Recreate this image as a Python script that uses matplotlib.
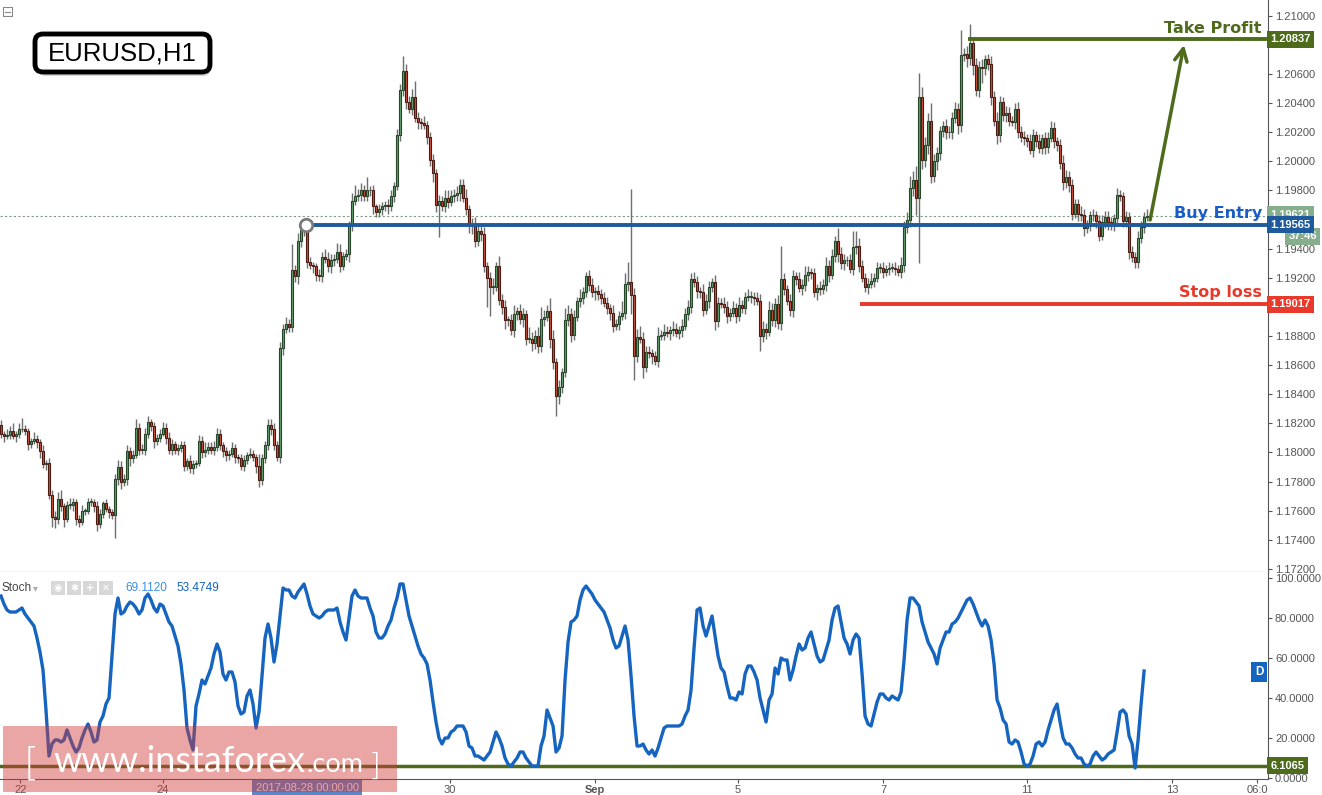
import numpy as np
import matplotlib.pyplot as plt
from matplotlib.patches import Rectangle, FancyBboxPatch
from matplotlib.transforms import IdentityTransform

plt.rcParams['font.family'] = ['Liberation Sans', 'DejaVu Sans']

# EURUSD H1 closes, in pips above 1.17000 (one value per hourly candle)
close_pips = [
    113, 111, 112, 115, 111, 113, 116, 116, 115, 106,
    108, 109, 107, 101, 92, 93, 71, 56, 54, 68,
    63, 54, 64, 64, 66, 54, 52, 60, 60, 66,
    66, 63, 51, 58, 65, 61, 59, 57, 82, 90,
    80, 82, 101, 96, 98, 117, 102, 102, 113, 121,
    118, 108, 110, 113, 117, 110, 102, 106, 102, 103,
    105, 91, 94, 89, 92, 93, 108, 100, 102, 104,
    102, 104, 113, 105, 101, 98, 99, 103, 97, 96,
    91, 95, 98, 99, 97, 91, 81, 96, 105, 119,
    116, 105, 97, 172, 185, 188, 186, 225, 221, 245,
    253, 252, 231, 229, 228, 222, 221, 234, 233, 228,
    232, 233, 238, 228, 235, 236, 256, 273, 276, 277,
    280, 276, 280, 280, 269, 265, 267, 269, 270, 269,
    276, 283, 318, 349, 362, 341, 336, 344, 330, 327,
    326, 325, 317, 301, 292, 270, 273, 269, 275, 272,
    276, 277, 278, 284, 275, 267, 256, 256, 245, 252,
    250, 228, 220, 214, 214, 228, 205, 200, 191, 191,
    184, 195, 197, 192, 195, 178, 178, 175, 180, 173,
    192, 193, 197, 178, 162, 139, 145, 155, 191, 195,
    181, 193, 204, 206, 210, 221, 215, 210, 211, 209,
    206, 203, 199, 196, 187, 188, 194, 196, 216, 217,
    208, 166, 179, 178, 159, 169, 168, 166, 163, 180,
    181, 183, 182, 184, 185, 182, 184, 187, 195, 200,
    219, 217, 211, 210, 198, 204, 214, 217, 190, 203,
    202, 200, 194, 196, 199, 194, 201, 199, 207, 207,
    207, 206, 204, 180, 185, 183, 198, 191, 202, 189,
    219, 212, 204, 198, 221, 219, 213, 215, 222, 224,
    223, 210, 213, 212, 215, 228, 222, 235, 245, 236,
    230, 232, 232, 226, 241, 242, 228, 220, 214, 216,
    218, 220, 227, 227, 224, 226, 227, 227, 226, 224,
    229, 255, 260, 282, 287, 275, 344, 301, 311, 328,
    290, 300, 306, 321, 324, 320, 320, 330, 336, 325,
    373, 374, 371, 381, 366, 349, 365, 364, 370, 367,
    344, 328, 318, 341, 332, 333, 328, 327, 336, 320,
    317, 316, 314, 308, 318, 314, 309, 316, 310, 316,
    323, 314, 311, 299, 286, 289, 284, 264, 271, 264,
    263, 254, 256, 263, 263, 259, 249, 258, 262, 258,
    257, 261, 277, 276, 259, 262, 238, 234, 231, 247,
    255, 262, 262,
]
first_open = 119

# wick length above / below the body, pips
wick_up = [
    3, 2, 4, 3, 5, 2, 4, 8, 3, 2,
    2, 5, 3, 2, 4, 2, 3, 3, 4, 5,
    6, 2, 3, 5, 3, 2, 3, 4, 2, 3,
    3, 2, 4, 3, 2, 3, 2, 2, 3, 5,
    4, 3, 4, 3, 4, 6, 3, 4, 4, 4,
    2, 3, 3, 3, 4, 3, 4, 3, 2, 3,
    3, 3, 2, 4, 3, 2, 4, 3, 5, 3,
    3, 4, 4, 3, 2, 3, 3, 4, 3, 2,
    3, 3, 2, 4, 3, 2, 8, 3, 3, 4,
    4, 4, 3, 4, 3, 5, 4, 18, 4, 6,
    5, 4, 3, 3, 2, 2, 4, 4, 6, 5,
    4, 3, 6, 5, 3, 4, 3, 5, 8, 4,
    5, 4, 9, 3, 4, 2, 4, 3, 3, 4,
    4, 3, 4, 4, 10, 5, 4, 6, 11, 4,
    3, 5, 3, 3, 4, 3, 4, 3, 5, 5,
    4, 4, 5, 4, 4, 6, 3, 5, 6, 4,
    5, 5, 3, 4, 6, 3, 7, 4, 5, 3,
    4, 6, 3, 5, 4, 3, 8, 5, 4, 6,
    8, 5, 4, 9, 6, 3, 5, 3, 8, 6,
    4, 5, 3, 6, 4, 3, 4, 5, 3, 4,
    3, 4, 4, 3, 5, 4, 3, 8, 7, 14,
    64, 5, 6, 8, 5, 4, 4, 3, 4, 6,
    3, 5, 4, 3, 5, 4, 3, 5, 4, 5,
    4, 5, 4, 3, 6, 5, 4, 3, 5, 4,
    3, 5, 4, 3, 5, 4, 6, 4, 3, 5,
    4, 3, 4, 5, 5, 4, 6, 5, 4, 6,
    23, 4, 3, 5, 4, 3, 5, 4, 6, 4,
    3, 4, 3, 5, 4, 6, 4, 5, 4, 9,
    5, 4, 3, 4, 11, 10, 5, 4, 3, 4,
    5, 3, 4, 3, 4, 3, 4, 3, 4, 3,
    5, 4, 5, 8, 6, 10, 17, 7, 6, 5,
    12, 5, 4, 3, 4, 5, 4, 4, 5, 4,
    17, 4, 5, 13, 4, 5, 4, 5, 3, 4,
    5, 4, 6, 4, 3, 5, 4, 3, 4, 5,
    4, 4, 3, 5, 4, 3, 5, 3, 4, 4,
    5, 4, 3, 4, 5, 5, 4, 4, 3, 3,
    5, 4, 4, 3, 4, 3, 4, 5, 4, 4,
    4, 3, 5, 3, 3, 4, 3, 4, 4, 5,
    4, 3, 5,
]
wick_dn = [
    3, 4, 2, 3, 2, 4, 3, 2, 3, 4,
    3, 2, 4, 5, 3, 4, 3, 7, 6, 3,
    3, 5, 2, 3, 4, 4, 3, 2, 3, 2,
    3, 4, 5, 3, 3, 2, 4, 3, 16, 4,
    5, 3, 4, 5, 3, 2, 4, 3, 4, 3,
    3, 5, 3, 3, 2, 4, 3, 4, 3, 4,
    3, 4, 3, 3, 4, 3, 2, 4, 3, 3,
    3, 4, 3, 3, 4, 4, 3, 2, 4, 3,
    3, 4, 3, 2, 3, 5, 5, 3, 3, 3,
    4, 3, 3, 4, 5, 3, 3, 3, 4, 5,
    4, 3, 4, 3, 5, 4, 3, 4, 3, 4,
    5, 4, 3, 4, 3, 3, 5, 4, 3, 3,
    4, 3, 3, 4, 5, 3, 3, 4, 3, 5,
    3, 4, 3, 4, 4, 5, 3, 4, 3, 5,
    4, 3, 5, 4, 6, 5, 22, 3, 4, 4,
    3, 4, 4, 5, 3, 4, 5, 6, 4, 3,
    5, 4, 20, 20, 5, 3, 4, 5, 6, 4,
    3, 5, 4, 4, 6, 4, 3, 5, 4, 5,
    4, 5, 3, 6, 5, 14, 6, 4, 3, 4,
    5, 4, 3, 4, 4, 3, 4, 3, 5, 4,
    4, 3, 4, 5, 4, 3, 4, 3, 4, 5,
    13, 16, 4, 3, 8, 4, 3, 5, 3, 4,
    3, 4, 3, 5, 4, 3, 4, 5, 3, 4,
    4, 3, 5, 4, 4, 3, 5, 4, 6, 4,
    3, 4, 5, 4, 3, 5, 4, 3, 4, 3,
    4, 5, 3, 10, 4, 5, 3, 4, 5, 4,
    5, 4, 3, 4, 5, 4, 3, 5, 4, 4,
    4, 3, 5, 4, 3, 4, 5, 3, 4, 5,
    4, 5, 4, 3, 4, 5, 4, 3, 4, 5,
    3, 4, 3, 4, 4, 3, 4, 3, 4, 3,
    4, 5, 4, 5, 6, 12, 45, 6, 5, 6,
    5, 4, 6, 5, 4, 5, 4, 5, 4, 6,
    5, 4, 6, 5, 7, 4, 5, 10, 5, 4,
    5, 4, 6, 5, 4, 5, 4, 3, 5, 4,
    4, 5, 4, 3, 5, 4, 3, 4, 5, 4,
    3, 5, 4, 4, 6, 4, 5, 4, 3, 5,
    4, 5, 3, 4, 4, 5, 4, 3, 4, 5,
    4, 5, 4, 3, 4, 4, 5, 3, 4, 4,
    3, 4, 3,
]

# Stochastic %D line
stoch_d = [
    91, 87, 84, 83, 83, 83, 84, 85, 82, 80,
    78, 76, 70, 63, 54, 34, 11, 17, 19, 19,
    18, 19, 24, 20, 16, 13, 15, 20, 24, 27,
    23, 18, 19, 28, 31, 37, 40, 61, 82, 90,
    82, 83, 86, 88, 87, 85, 82, 84, 90, 92,
    89, 85, 83, 87, 86, 82, 78, 76, 71, 66,
    57, 44, 25, 19, 14, 36, 42, 49, 47, 51,
    55, 62, 67, 63, 52, 49, 53, 53, 48, 36,
    32, 33, 41, 44, 37, 25, 33, 51, 70, 77,
    70, 58, 67, 81, 95, 94, 94, 91, 90, 93,
    95, 97, 92, 86, 82, 81, 80, 81, 83, 84,
    84, 84, 85, 78, 73, 69, 80, 91, 94, 91,
    90, 90, 90, 85, 81, 73, 70, 70, 72, 76,
    79, 85, 90, 97, 97, 89, 81, 76, 71, 66,
    62, 60, 57, 49, 38, 28, 20, 17, 20, 20,
    23, 24, 26, 26, 26, 23, 16, 15, 11, 11,
    10, 9, 11, 13, 18, 23, 20, 16, 10, 7,
    6, 8, 10, 13, 13, 10, 8, 6, 6, 6,
    16, 21, 34, 30, 26, 13, 15, 21, 49, 68,
    78, 79, 81, 89, 94, 96, 94, 92, 89, 87,
    85, 83, 79, 75, 69, 65, 66, 71, 76, 69,
    51, 31, 16, 16, 17, 14, 12, 14, 11, 15,
    20, 25, 26, 26, 26, 26, 26, 27, 31, 34,
    44, 65, 84, 85, 76, 71, 76, 81, 71, 61,
    55, 53, 46, 40, 40, 39, 43, 42, 52, 56,
    56, 53, 49, 40, 34, 28, 39, 42, 55, 52,
    60, 59, 59, 49, 54, 61, 67, 64, 65, 70,
    73, 67, 61, 58, 59, 64, 69, 79, 85, 86,
    78, 70, 67, 62, 69, 72, 70, 52, 31, 27,
    26, 32, 38, 42, 42, 40, 39, 41, 40, 39,
    43, 59, 79, 90, 90, 88, 86, 78, 73, 68,
    65, 62, 57, 65, 69, 73, 73, 77, 78, 80,
    83, 86, 89, 90, 87, 83, 79, 76, 79, 76,
    69, 57, 39, 35, 29, 27, 18, 17, 19, 18,
    13, 7, 6, 7, 11, 17, 18, 16, 18, 24,
    29, 34, 37, 28, 20, 17, 17, 15, 12, 10,
    10, 7, 6, 7, 11, 13, 11, 9, 10, 12,
    13, 14, 23, 33, 34, 32, 21, 17, 5, 19,
    37, 53.5,
]

day_pos = [6.5, 54, 149.7, 198, 245.7, 294, 342, 390.3, 418.7]
day_labels = ['22', '24', '30', 'Sep', '5', '7', '11', '13', '06:0']

buy_entry = 1.19565
take_profit = 1.20837
stop_loss = 1.19017
last_price = 1.19621
stoch_min = 6.1065
k_last, d_last = 69.1120, 53.4749

entry_from, tp_from, sl_from = 101.7, 322.3, 286.3

closes = 1.17 + np.array(close_pips) / 10000
opens = np.concatenate([[1.17 + first_open / 10000], closes[:-1]])
highs = np.maximum(opens, closes) + np.array(wick_up) / 10000
lows = np.minimum(opens, closes) - np.array(wick_dn) / 10000
idx = np.arange(len(closes))

W, H = 1322, 795
fig = plt.figure(figsize=(W / 100, H / 100), dpi=100)
P = IdentityTransform()


def fy(py):
    return 1 - py / H


ax1 = fig.add_axes([0, fy(572), 1268 / W, 572 / H])
ax2 = fig.add_axes([0, fy(779), 1268 / W, (779 - 572) / H], sharex=ax1)
XL = (-0.33, 422.3)

# ---- price panel ----
ax1.set_xlim(*XL)
ax1.set_ylim(1.17179, 1.21108)
up = closes >= opens
body_lo = np.minimum(opens, closes)
body_h = np.maximum(np.abs(closes - opens), 0.00004)
ax1.vlines(idx, lows, highs, color='#6e6e6e', lw=1, zorder=2)
ax1.bar(idx[up], body_h[up], bottom=body_lo[up], width=0.8, color='#62a06e',
        edgecolor='#27472b', lw=0.8, zorder=3)
ax1.bar(idx[~up], body_h[~up], bottom=body_lo[~up], width=0.8, color='#c9523b',
        edgecolor='#4e1b12', lw=0.8, zorder=3)

ax1.hlines(last_price, XL[0], XL[1], color='#7d9c80', lw=0.8, linestyles=(0, (2, 2)), zorder=1)
ax1.hlines(buy_entry, entry_from, XL[1], color='#1e5a9c', lw=2.8, zorder=4)
ax1.hlines(take_profit, tp_from, XL[1], color='#4d6b1b', lw=2.8, zorder=4)
ax1.hlines(stop_loss, sl_from, XL[1], color='#e8392b', lw=2.8, zorder=4)
ax1.plot([entry_from], [buy_entry], 'o', ms=9, mfc='white', mec='#7a7a7a', mew=2, zorder=5)
ax1.annotate('', xy=(394.3, 1.2080), xytext=(383, 1.19597),
             arrowprops=dict(arrowstyle='->,head_length=0.9,head_width=0.45', color='#4d6b1b',
                             lw=2.5, shrinkA=0, shrinkB=0), zorder=6)

tx = 1262 / 1268
ax1.text(tx, take_profit + 0.00046, 'Take Profit', transform=ax1.get_yaxis_transform(), ha='right',
         va='baseline', color='#4d6b1b', fontsize=11.5, fontweight='bold', family='DejaVu Sans')
ax1.text(tx, buy_entry + 0.00048, 'Buy Entry', transform=ax1.get_yaxis_transform(), ha='right',
         va='baseline', color='#1a5cc8', fontsize=11.5, fontweight='bold', family='DejaVu Sans')
ax1.text(tx, stop_loss + 0.00048, 'Stop loss', transform=ax1.get_yaxis_transform(), ha='right',
         va='baseline', color='#e8392b', fontsize=11.5, fontweight='bold', family='DejaVu Sans')

price_ticks = np.round(np.arange(1.172, 1.2101, 0.002), 3)
# labels hidden behind the coloured price tags are left blank
hidden = {1.208, 1.19, 1.196}
ax1.yaxis.tick_right()
ax1.set_yticks(price_ticks)
ax1.set_yticklabels(['' if v in hidden else f'{v:.5f}' for v in price_ticks])
ax1.tick_params(axis='y', length=3, width=0.8, colors='#555555', labelsize=8, pad=2)
ax1.tick_params(axis='x', bottom=False, labelbottom=False)
for s in ['top', 'left']:
    ax1.spines[s].set_visible(False)
for s in ['right', 'bottom']:
    ax1.spines[s].set_color('#555555')


def tag(ax, y, text, fc, x=1.002, ha='left'):
    ax.text(x, y, text, transform=ax.get_yaxis_transform(), ha=ha, va='center', fontsize=8,
            color='white', fontweight='bold', zorder=20, clip_on=False,
            bbox=dict(boxstyle='square,pad=0.32', fc=fc, ec='none'))


tag(ax1, last_price + 0.00012, f'{last_price:.5f}', '#86ad8c')
tag(ax1, last_price - 0.00135, '37:46', '#86ad8c', x=1.0385, ha='right')
tag(ax1, buy_entry, f'{buy_entry:.5f}', '#1e5a9c')
tag(ax1, take_profit, f'{take_profit:.5f}', '#4d6b1b')
tag(ax1, stop_loss, f'{stop_loss:.5f}', '#e8392b')

# ---- stochastic panel ----
ax2.set_ylim(-0.5, 103)
ax2.plot(np.arange(len(stoch_d)), stoch_d, color='#1565c0', lw=2.4, zorder=3)
ax2.axhline(stoch_min, color='#4d6b1b', lw=2.5, zorder=2)
ax2.yaxis.tick_right()
ax2.set_yticks([0, 20, 40, 60, 80, 100])
ax2.set_yticklabels([f'{v:.4f}' for v in [0, 20, 40, 60, 80, 100]])
ax2.tick_params(axis='y', length=3, width=0.8, colors='#555555', labelsize=8, pad=2)
ax2.set_xticks(day_pos)
ax2.set_xticklabels(day_labels)
ax2.tick_params(axis='x', length=3, width=0.8, colors='#555555', labelsize=8, pad=1)
ax2.get_xticklabels()[3].set_fontweight('bold')
for s in ['top', 'left']:
    ax2.spines[s].set_visible(False)
for s in ['right', 'bottom']:
    ax2.spines[s].set_color('#555555')
tag(ax2, stoch_min, f'{stoch_min:.4f}', '#4d6b1b')
ax2.text(1259, H - 672, 'D', transform=P, ha='center', va='center', fontsize=8.5, color='white',
         fontweight='bold', bbox=dict(boxstyle='square,pad=0.3', fc='#1565c0', ec='none'))

# stoch header
fig.text(1, H - 588, 'Stoch', transform=P, ha='left', va='center', fontsize=8.5, color='#444444')
fig.text(33, H - 588, '▾', transform=P, ha='left', va='center', fontsize=7, color='#aaaaaa',
         family='DejaVu Sans')
for k, sym in enumerate(['◉', '✱', '+', '✕']):
    x0 = 51 + 16 * k
    fig.add_artist(Rectangle((x0, H - 595), 14, 14, transform=P, fc='#d8d8d8', ec='none'))
    fig.text(x0 + 7, H - 588, sym, transform=P, ha='center', va='center', fontsize=7,
             color='white', fontweight='bold', family='DejaVu Sans')
fig.text(125, H - 588, f'{k_last:.4f}', transform=P, ha='left', va='center', fontsize=8.5,
         color='#3d8fe0')
fig.text(176, H - 588, f'{d_last:.4f}', transform=P, ha='left', va='center', fontsize=8.5,
         color='#1565c0')

# crosshair date label
fig.add_artist(Rectangle((252, 0), 110, 15, transform=P, fc='#5a86c8', ec='none', zorder=5))
fig.text(307, H - 788, '2017-08-28 00:00:00', transform=P, ha='center', va='center',
         fontsize=8, color='white', zorder=6)

# watermark
fig.add_artist(Rectangle((3, H - 792), 394, 66, transform=P, fc=(0.82, 0.22, 0.22),
                         alpha=0.45, ec='none', zorder=10))
renderer = fig.canvas.get_renderer()
fig.text(24, H - 775, '[', transform=P, fontsize=28, color='white', zorder=11,
         family='DejaVu Sans', fontweight='light', va='baseline')
www = fig.text(53, H - 772, 'www.instaforex', transform=P, fontsize=26, color='white',
               zorder=11, family='Lato', va='baseline')
x_end = www.get_window_extent(renderer).x1
com = fig.text(x_end + 1, H - 772, '.com', transform=P, fontsize=19.5, color='white', zorder=11,
               family='Lato', va='baseline')
x_end = com.get_window_extent(renderer).x1
fig.text(x_end + 6, H - 775, ']', transform=P, fontsize=22, color='white', zorder=11,
         family='DejaVu Sans', fontweight='light', va='baseline')

# title box
fig.add_artist(FancyBboxPatch((38, H - 76), 173, 38, boxstyle='round,pad=0,rounding_size=8',
                              transform=P, fc='#bbbbbb', ec='none', alpha=0.6, zorder=7))
fig.add_artist(FancyBboxPatch((35, H - 72), 175, 38, boxstyle='round,pad=0,rounding_size=8',
                              transform=P, fc='white', ec='black', lw=3.5, zorder=8))
fig.text(122, H - 53, 'EURUSD,H1', transform=P, ha='center', va='center', fontsize=18.5,
         color='black', zorder=9)
fig.add_artist(Rectangle((3, H - 16), 9, 9, transform=P, fc='white', ec='#888888', lw=0.8))
fig.add_artist(plt.Line2D([5, 10], [H - 11.5, H - 11.5], transform=P, color='#888888', lw=0.8))

fig.savefig('out.png', dpi=100)
